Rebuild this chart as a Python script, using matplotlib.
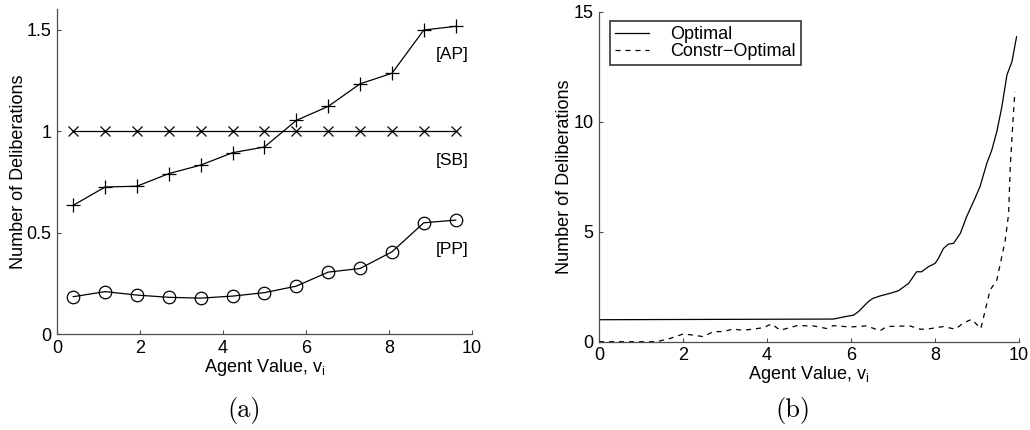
import numpy as np
import matplotlib.pyplot as plt

plt.rcParams['font.family'] = ['Liberation Sans', 'DejaVu Sans']

# (a) number of deliberations per agent value
agent_values = [0.385, 1.154, 1.923, 2.692, 3.462, 4.231, 5.0, 5.769, 6.538, 7.308, 8.077, 8.846, 9.615]
ap_delib = [0.635, 0.725, 0.729, 0.791, 0.833, 0.894, 0.922, 1.053, 1.122, 1.233, 1.285, 1.498, 1.516]
sb_delib = [1.0] * 13
pp_delib = [0.185, 0.210, 0.193, 0.182, 0.178, 0.188, 0.205, 0.237, 0.306, 0.324, 0.406, 0.549, 0.562]

# (b) optimal vs constrained-optimal
opt_x = [0.0, 5.58, 5.86, 6.06, 6.17, 6.29, 6.41, 6.52, 6.69, 6.93, 7.13, 7.37, 7.56, 7.68,
         7.84, 8.0, 8.08, 8.2, 8.32, 8.44, 8.6, 8.75, 8.95, 9.07, 9.23, 9.35, 9.47, 9.59,
         9.71, 9.83, 9.94]
opt_y = [1.0, 1.03, 1.14, 1.21, 1.36, 1.59, 1.82, 1.97, 2.08, 2.20, 2.32, 2.65, 3.18, 3.18,
         3.41, 3.56, 3.79, 4.24, 4.44, 4.47, 4.92, 5.68, 6.52, 7.05, 8.1, 8.71, 9.55, 10.68,
         12.12, 12.73, 13.86]
con_x = [0.0, 0.9, 1.37, 1.69, 2.0, 2.25, 2.48, 2.72, 2.96, 3.2, 3.4, 3.67, 3.91, 4.11, 4.31,
         4.71, 5.1, 5.42, 5.58, 5.98, 6.37, 6.69, 6.85, 7.4, 7.64, 7.8, 8.2, 8.48, 8.67, 8.87,
         9.09, 9.31, 9.47, 9.67, 9.75, 9.79, 9.87, 9.9]
con_y = [0.0, 0.0, 0.0, 0.15, 0.35, 0.3, 0.23, 0.46, 0.46, 0.58, 0.52, 0.57, 0.64, 0.81, 0.52,
         0.73, 0.72, 0.6, 0.73, 0.67, 0.72, 0.5, 0.69, 0.72, 0.57, 0.57, 0.69, 0.57, 0.84, 1.02,
         0.6, 2.35, 2.8, 4.6, 5.8, 7.95, 10.5, 11.36]

fig = plt.figure(figsize=(10.3, 4.3), dpi=100)
ax1 = fig.add_axes([0.0556, 0.2226, 0.4023, 0.7558])
ax2 = fig.add_axes([0.5816, 0.2053, 0.4078, 0.7674])

for ax in (ax1, ax2):
    for s in ('top', 'right'):
        ax.spines[s].set_visible(False)
    for s in ('left', 'bottom'):
        ax.spines[s].set_color('0.3')
        ax.spines[s].set_linewidth(0.9)
    ax.tick_params(direction='in', length=3, width=0.8, color='0.3', labelsize=13, pad=4)
    ax.set_xlim(0, 10)
    ax.set_xticks([0, 2, 4, 6, 8, 10])
    ax.set_xlabel('Agent Value, v$_\\mathregular{i}$', fontsize=13, labelpad=0)
    ax.set_ylabel('Number of Deliberations', fontsize=13, labelpad=0)

lw = 0.9
ax1.plot(agent_values, ap_delib, color='k', lw=lw, marker='+', ms=10, mew=lw)
ax1.plot(agent_values, sb_delib, color='k', lw=lw, marker='x', ms=7, mew=lw)
ax1.plot(agent_values, pp_delib, color='k', lw=lw, marker='o', ms=9, mew=lw, mfc='none')
ax1.set_ylim(0, 1.6)
ax1.set_yticks([0, 0.5, 1, 1.5])
ax1.set_yticklabels(['0', '0.5', '1', '1.5'])
ax1.text(9.52, 1.375, '[AP]', fontsize=12.5, ha='center', va='center')
ax1.text(9.52, 0.856, '[SB]', fontsize=12.5, ha='center', va='center')
ax1.text(9.52, 0.418, '[PP]', fontsize=12.5, ha='center', va='center')

ax2.plot(opt_x, opt_y, color='k', lw=lw, label='Optimal')
ax2.plot(con_x, con_y, color='k', lw=lw, ls=(0, (4, 4)), label='Constr\u2212Optimal')
ax2.set_ylim(0, 15)
ax2.set_yticks([0, 5, 10, 15])
leg = ax2.legend(loc='upper left', bbox_to_anchor=(0.026, 0.973), fontsize=13, frameon=True,
                 fancybox=False, edgecolor='k', handlelength=1.85, handletextpad=1.2,
                 borderpad=0.3, labelspacing=0.0, borderaxespad=0)
leg.get_frame().set_linewidth(1.2)

fig.text(244 / 1030, 1 - 410 / 430, '(a)', family='cmr10', fontsize=19, ha='center', va='center')
fig.text(793 / 1030, 1 - 411 / 430, '(b)', family='cmr10', fontsize=19, ha='center', va='center')

fig.savefig('out.png', dpi=100)
